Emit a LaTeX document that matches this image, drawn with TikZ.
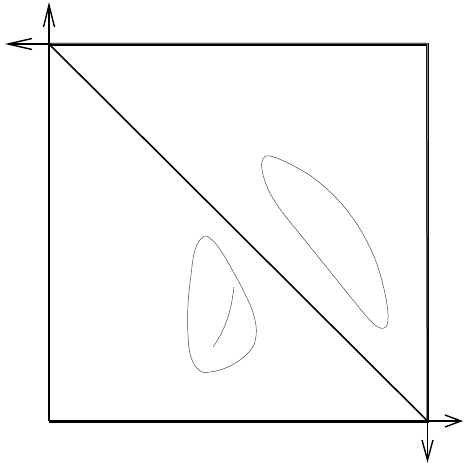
\documentclass[tikz,border=0pt]{standalone}
\usetikzlibrary{calc}
\begin{document}
\begin{tikzpicture}[x=1pt,y=-1pt,
  axis/.style={line width=1.2pt},
  barb/.style={line width=1.4pt,line join=miter},
  loop/.style={line width=0.5pt,black!70}]
\useasboundingbox (0,0) rectangle (463,463);
\coordinate (TL) at (49,44);
\coordinate (TR) at (427.5,44);
\coordinate (BR) at (427.5,421);
\coordinate (BL) at (49,421);
\coordinate (up) at (49,5);
\coordinate (left) at (8,44);
\coordinate (right) at (461,421);
\coordinate (down) at (427.5,460);
% frame
\draw[line width=3pt,black] (TL) -- (TR) -- (BR) -- (BL);
\draw[line width=1pt,black!45] ([xshift=2pt,yshift=1pt]TL) -- ([yshift=1pt]TR) -- ([xshift=-1pt]BR) ;
\draw[line width=2.4pt,black] (BL) -- (TL);
% diagonal
\draw[line width=1.6pt] (TL) -- (BR);
% axes
\draw[axis] (TL) -- (up);
\draw[axis] (TL) -- (left);
\draw[axis] (BR) -- (right);
\draw[axis] (BR) -- (down);
\draw[barb] ($(up)+(-5.5,22)$) -- (up) -- ($(up)+(5.5,22)$);
\draw[barb] ($(left)+(24,-5.5)$) -- (left) -- ($(left)+(24,5.5)$);
\draw[barb] ($(right)+(-16,-6)$) -- (right) -- ($(right)+(-16,6)$);
\draw[barb] ($(down)+(-5.5,-20)$) -- (down) -- ($(down)+(5.5,-20)$);
% small loop
\draw[loop] plot[smooth cycle,tension=0.7] coordinates {
 (203,237) (195,250) (191,275) (188,305) (188,335) (191,357) (199,370) (210,372)
 (230,366) (249,352) (256,336) (254,316) (246,296) (234,273) (221,251) (211,239)};
\draw[loop] plot[smooth,tension=0.7] coordinates {(234,287) (230,310) (222,332) (213,347)};
% large loop
\draw[loop] plot[smooth cycle,tension=0.6] coordinates {
 (270,156) (290,164) (315,179) (340,202) (360,229) (375,259) (384,289) (388,314) (386,327)
 (378,327) (367,317) (349,295) (324,264) (299,233) (280,209) (268,189) (262,170) (263,159)};
\end{tikzpicture}
\end{document}
